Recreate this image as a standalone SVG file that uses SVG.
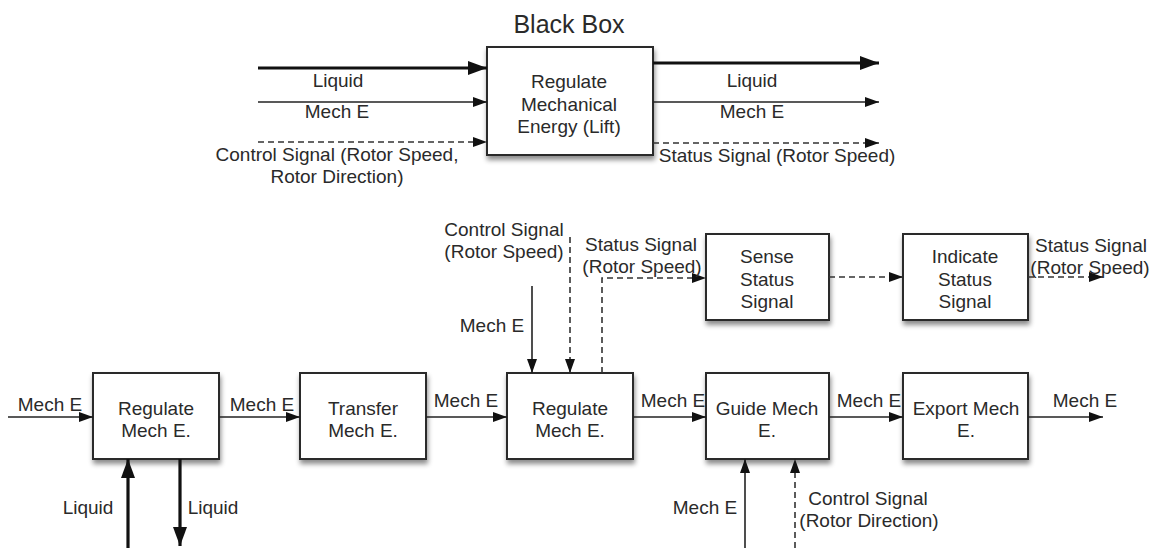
<svg xmlns="http://www.w3.org/2000/svg" width="1151" height="548" viewBox="0 0 1151 548">
  <defs>
    <filter id="shadow" x="-20%" y="-20%" width="150%" height="160%">
      <feDropShadow dx="1" dy="4" stdDeviation="2.5" flood-color="#000" flood-opacity="0.45"/>
    </filter>
    <marker id="arrow" viewBox="0 0 14 10" refX="14" refY="5" markerWidth="14" markerHeight="10" markerUnits="userSpaceOnUse" orient="auto">
      <path d="M0,0 L14,5 L0,10 z" fill="#111"/>
    </marker>
    <marker id="arrowBig" viewBox="0 0 19 14" refX="19" refY="7" markerWidth="19" markerHeight="14" markerUnits="userSpaceOnUse" orient="auto">
      <path d="M0,0 L19,7 L0,14 z" fill="#111"/>
    </marker>
  </defs>
  <style>
    .box { fill: #fff; stroke: #2a2a2a; stroke-width: 2; filter: url(#shadow); }
    text { font-family: "Liberation Sans", Arial, sans-serif; font-size: 19px; fill: #2a2a2a; }
    .c { text-anchor: middle; }
    .title { font-size: 25px; }
    .flow { fill: none; stroke: #222; stroke-width: 1.6; marker-end: url(#arrow); }
    .thick { fill: none; stroke: #111; stroke-width: 3.2; marker-end: url(#arrowBig); }
    .sig { fill: none; stroke: #333; stroke-width: 1.6; stroke-dasharray: 6 4; marker-end: url(#arrow); }
  </style>

  <rect width="1151" height="548" fill="#fff"/>

  <!-- Black box overview -->
  <text class="c title" x="569" y="33">Black Box</text>

  <g id="blackbox">
    <rect class="box" x="487" y="47" width="166" height="108"/>
    <text class="c" x="569" y="88">Regulate</text>
    <text class="c" x="569" y="111">Mechanical</text>
    <text class="c" x="569" y="133">Energy (Lift)</text>
  </g>

  <!-- Function chain -->
  <g id="regulate1">
    <rect class="box" x="93" y="373" width="126" height="86"/>
    <text class="c" x="156" y="415">Regulate</text>
    <text class="c" x="156" y="437">Mech E.</text>
  </g>
  <g id="transfer">
    <rect class="box" x="300" y="373" width="126" height="86"/>
    <text class="c" x="363" y="415">Transfer</text>
    <text class="c" x="363" y="437">Mech E.</text>
  </g>
  <g id="regulate2">
    <rect class="box" x="507" y="373" width="126" height="86"/>
    <text class="c" x="570" y="415">Regulate</text>
    <text class="c" x="570" y="437">Mech E.</text>
  </g>
  <g id="guide">
    <rect class="box" x="706" y="373" width="123" height="86"/>
    <text class="c" x="767" y="415">Guide Mech</text>
    <text class="c" x="767" y="437">E.</text>
  </g>
  <g id="export">
    <rect class="box" x="903" y="373" width="125" height="86"/>
    <text class="c" x="966" y="415">Export Mech</text>
    <text class="c" x="966" y="437">E.</text>
  </g>
  <g id="sense">
    <rect class="box" x="706" y="234" width="123" height="86"/>
    <text class="c" x="767" y="263">Sense</text>
    <text class="c" x="767" y="286">Status</text>
    <text class="c" x="767" y="308">Signal</text>
  </g>
  <g id="indicate">
    <rect class="box" x="903" y="234" width="125" height="86"/>
    <text class="c" x="965" y="263">Indicate</text>
    <text class="c" x="965" y="286">Status</text>
    <text class="c" x="965" y="308">Signal</text>
  </g>

  <g id="connectors">
    <!-- black box inputs / outputs -->
    <line class="thick" x1="258" y1="68" x2="487" y2="68"/>
    <line class="flow" x1="258" y1="102" x2="487" y2="102"/>
    <line class="sig" x1="258" y1="142" x2="487" y2="142"/>
    <line class="thick" x1="653" y1="63" x2="879" y2="63"/>
    <line class="flow" x1="653" y1="102" x2="879" y2="102"/>
    <line class="sig" x1="653" y1="143" x2="879" y2="143"/>

    <!-- main energy path -->
    <line class="flow" x1="8" y1="417" x2="93" y2="417"/>
    <line class="flow" x1="219" y1="417" x2="300" y2="417"/>
    <line class="flow" x1="426" y1="417" x2="507" y2="417"/>
    <line class="flow" x1="633" y1="417" x2="706" y2="417"/>
    <line class="flow" x1="829" y1="417" x2="903" y2="417"/>
    <line class="flow" x1="1028" y1="417" x2="1103" y2="417"/>

    <!-- liquid in / out of first regulator -->
    <line class="thick" x1="128" y1="548" x2="128" y2="459"/>
    <line class="thick" x1="180" y1="459" x2="180" y2="546"/>

    <!-- inputs to second regulator -->
    <line class="flow" x1="532" y1="286" x2="532" y2="373"/>
    <line class="sig" x1="570" y1="237" x2="570" y2="373"/>
    <polyline class="sig" points="602,373 602,278 706,278"/>

    <!-- status signal chain -->
    <line class="sig" x1="829" y1="277" x2="903" y2="277"/>
    <line class="sig" x1="1028" y1="277" x2="1103" y2="277"/>

    <!-- inputs to guide -->
    <line class="flow" x1="745" y1="548" x2="745" y2="459"/>
    <line class="sig" x1="795" y1="548" x2="795" y2="459"/>
  </g>

  <g id="labels">
    <text class="c" x="338" y="87">Liquid</text>
    <text class="c" x="337" y="118">Mech E</text>
    <text class="c" x="337" y="161">Control Signal (Rotor Speed,</text>
    <text class="c" x="337" y="183">Rotor Direction)</text>
    <text class="c" x="752" y="87">Liquid</text>
    <text class="c" x="752" y="118">Mech E</text>
    <text class="c" x="777" y="162">Status Signal (Rotor Speed)</text>

    <text class="c" x="50" y="411">Mech E</text>
    <text class="c" x="262" y="411">Mech E</text>
    <text class="c" x="466" y="407">Mech E</text>
    <text class="c" x="673" y="407">Mech E</text>
    <text class="c" x="869" y="407">Mech E</text>
    <text class="c" x="1085" y="407">Mech E</text>

    <text class="c" x="88" y="514">Liquid</text>
    <text class="c" x="213" y="514">Liquid</text>

    <text class="c" x="504" y="236">Control Signal</text>
    <text class="c" x="504" y="258">(Rotor Speed)</text>
    <text class="c" x="492" y="332">Mech E</text>
    <text class="c" x="641" y="251">Status Signal</text>
    <text class="c" x="642" y="273">(Rotor Speed)</text>
    <text class="c" x="1091" y="252">Status Signal</text>
    <text class="c" x="1090" y="274">(Rotor Speed)</text>

    <text class="c" x="705" y="514">Mech E</text>
    <text class="c" x="868" y="505">Control Signal</text>
    <text class="c" x="869" y="527">(Rotor Direction)</text>
  </g>
</svg>
